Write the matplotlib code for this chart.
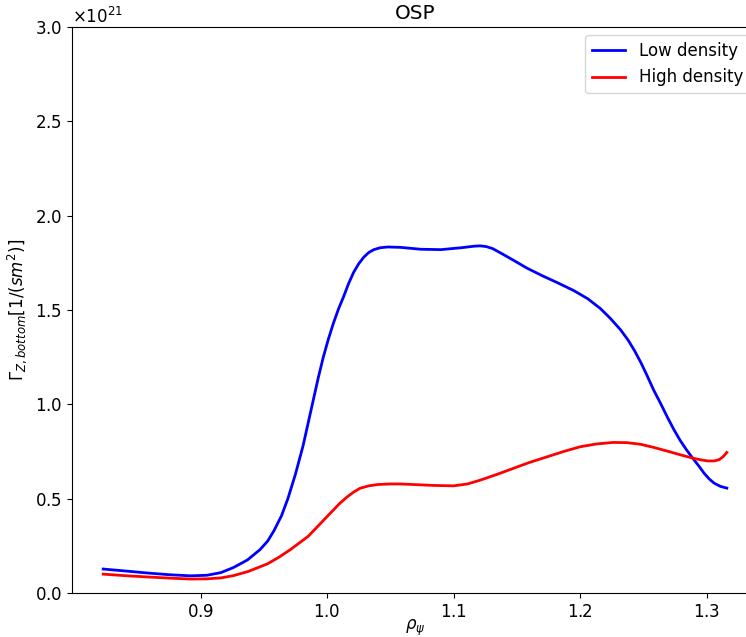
import numpy as np
import matplotlib
matplotlib.use('Agg')
import matplotlib.pyplot as plt

# Particle flux on the outer strike point, two density scans (units of 1e21)
rho_low = [0.823, 0.840, 0.858, 0.875, 0.892, 0.905, 0.916, 0.926, 0.937, 0.947,
           0.953, 0.958, 0.964, 0.969, 0.975, 0.981, 0.985, 0.989, 0.993, 0.997,
           1.001, 1.005, 1.009, 1.013, 1.017, 1.021, 1.025, 1.029, 1.033, 1.037,
           1.042, 1.048, 1.058, 1.074, 1.090, 1.106, 1.116, 1.121, 1.126, 1.131,
           1.137, 1.147, 1.158, 1.170, 1.182, 1.195, 1.206, 1.216, 1.224, 1.232,
           1.238, 1.243, 1.248, 1.253, 1.258, 1.264, 1.269, 1.274, 1.279, 1.284,
           1.289, 1.294, 1.298, 1.302, 1.306, 1.311, 1.316]
flux_low = [0.127, 0.117, 0.106, 0.097, 0.091, 0.094, 0.108, 0.135, 0.175, 0.230,
            0.275, 0.330, 0.410, 0.500, 0.630, 0.780, 0.900, 1.020, 1.140, 1.250,
            1.345, 1.430, 1.505, 1.570, 1.640, 1.700, 1.745, 1.780, 1.805, 1.820,
            1.830, 1.834, 1.832, 1.822, 1.820, 1.830, 1.838, 1.840, 1.836, 1.825,
            1.803, 1.765, 1.722, 1.682, 1.645, 1.603, 1.560, 1.508, 1.455, 1.395,
            1.340, 1.285, 1.222, 1.152, 1.078, 1.000, 0.932, 0.868, 0.810, 0.760,
            0.715, 0.672, 0.635, 0.605, 0.582, 0.565, 0.556]

rho_high = [0.823, 0.840, 0.858, 0.875, 0.892, 0.905, 0.916, 0.926, 0.938, 0.953,
            0.962, 0.971, 0.978, 0.985, 0.990, 0.995, 1.000, 1.005, 1.010, 1.016,
            1.021, 1.026, 1.033, 1.040, 1.050, 1.058, 1.068, 1.085, 1.100, 1.111,
            1.121, 1.134, 1.147, 1.160, 1.174, 1.187, 1.200, 1.213, 1.226, 1.237,
            1.248, 1.258, 1.269, 1.279, 1.289, 1.296, 1.301, 1.306, 1.310, 1.313,
            1.316]
flux_high = [0.100, 0.092, 0.085, 0.079, 0.074, 0.075, 0.080, 0.092, 0.115, 0.155,
             0.190, 0.230, 0.265, 0.300, 0.335, 0.370, 0.405, 0.440, 0.475, 0.510,
             0.535, 0.555, 0.568, 0.575, 0.578, 0.578, 0.575, 0.570, 0.568, 0.578,
             0.598, 0.628, 0.660, 0.692, 0.722, 0.750, 0.775, 0.790, 0.798, 0.797,
             0.788, 0.772, 0.752, 0.733, 0.715, 0.705, 0.700, 0.700, 0.707, 0.722,
             0.745]

plt.rcParams.update({'font.size': 12, 'axes.formatter.use_mathtext': True})

fig = plt.figure(figsize=(7.46, 6.37), dpi=100)
ax = fig.add_axes([72 / 746, 44 / 637, 686 / 746, 566 / 637])

ax.plot(rho_low, np.array(flux_low) * 1e21, color='blue', lw=2, label='Low density')
ax.plot(rho_high, np.array(flux_high) * 1e21, color='red', lw=2, label='High density')

ax.set_ylim(0, 3e21)
ax.set_xticks([0.9, 1.0, 1.1, 1.2, 1.3])
ax.set_xlabel(r'$\rho_\psi$', labelpad=-2)
ax.set_ylabel(r'$\Gamma_{Z,bottom} [1/(sm^2)]$')
ax.set_title('OSP')
ax.legend(loc='upper right')

fig.savefig('out.png', dpi=100)
